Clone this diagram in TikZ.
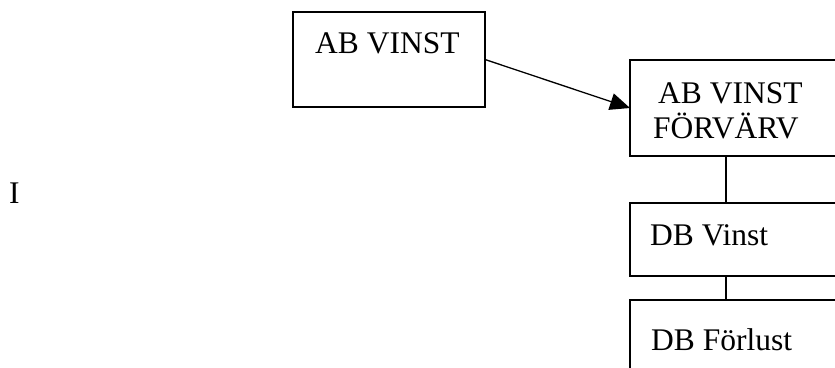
\documentclass[tikz,border=0pt]{standalone}
\usepackage{fontspec}
\setmainfont{Liberation Serif}
\usetikzlibrary{arrows.meta}
\begin{document}
\begin{tikzpicture}[x=1pt,y=-1pt,
  boxnode/.style={draw=black,line width=1.3pt,inner sep=0pt,outer sep=0pt,anchor=north west},
  lbl/.style={inner sep=0pt,anchor=base west,font=\fontsize{31.5}{35}\selectfont},
  conn/.style={draw=black,line width=1.3pt}]
\useasboundingbox (0,0) rectangle (835,367);
\clip (0,0) rectangle (835,367);
\node[boxnode,minimum width=192pt,minimum height=95pt] (b1) at (293,12) {};
\node[boxnode,minimum width=212pt,minimum height=96pt] (b2) at (630,60) {};
\node[boxnode,minimum width=212pt,minimum height=73pt] (b3) at (630,203) {};
\node[boxnode,minimum width=212pt,minimum height=90pt] (b4) at (630,300) {};
\node[lbl] (t1) at (315,53) {AB VINST};
\node[lbl] (t2) at (658,103) {AB VINST};
\node[lbl] (t3) at (653,138) {FÖRVÄRV};
\node[lbl] (t4) at (650,245) {DB Vinst};
\node[lbl] (t5) at (651,350) {DB Förlust};
\node[lbl] (t6) at (9,203) {I};
\draw[conn,-{Triangle[length=20pt,width=17pt]}] (b1.east) -- (b2.west);
\draw[conn] ([xshift=-10pt]b2.south) -- ([xshift=-10pt]b3.north);
\draw[conn] ([xshift=-10pt]b3.south) -- ([xshift=-10pt]b4.north);
\end{tikzpicture}
\end{document}
